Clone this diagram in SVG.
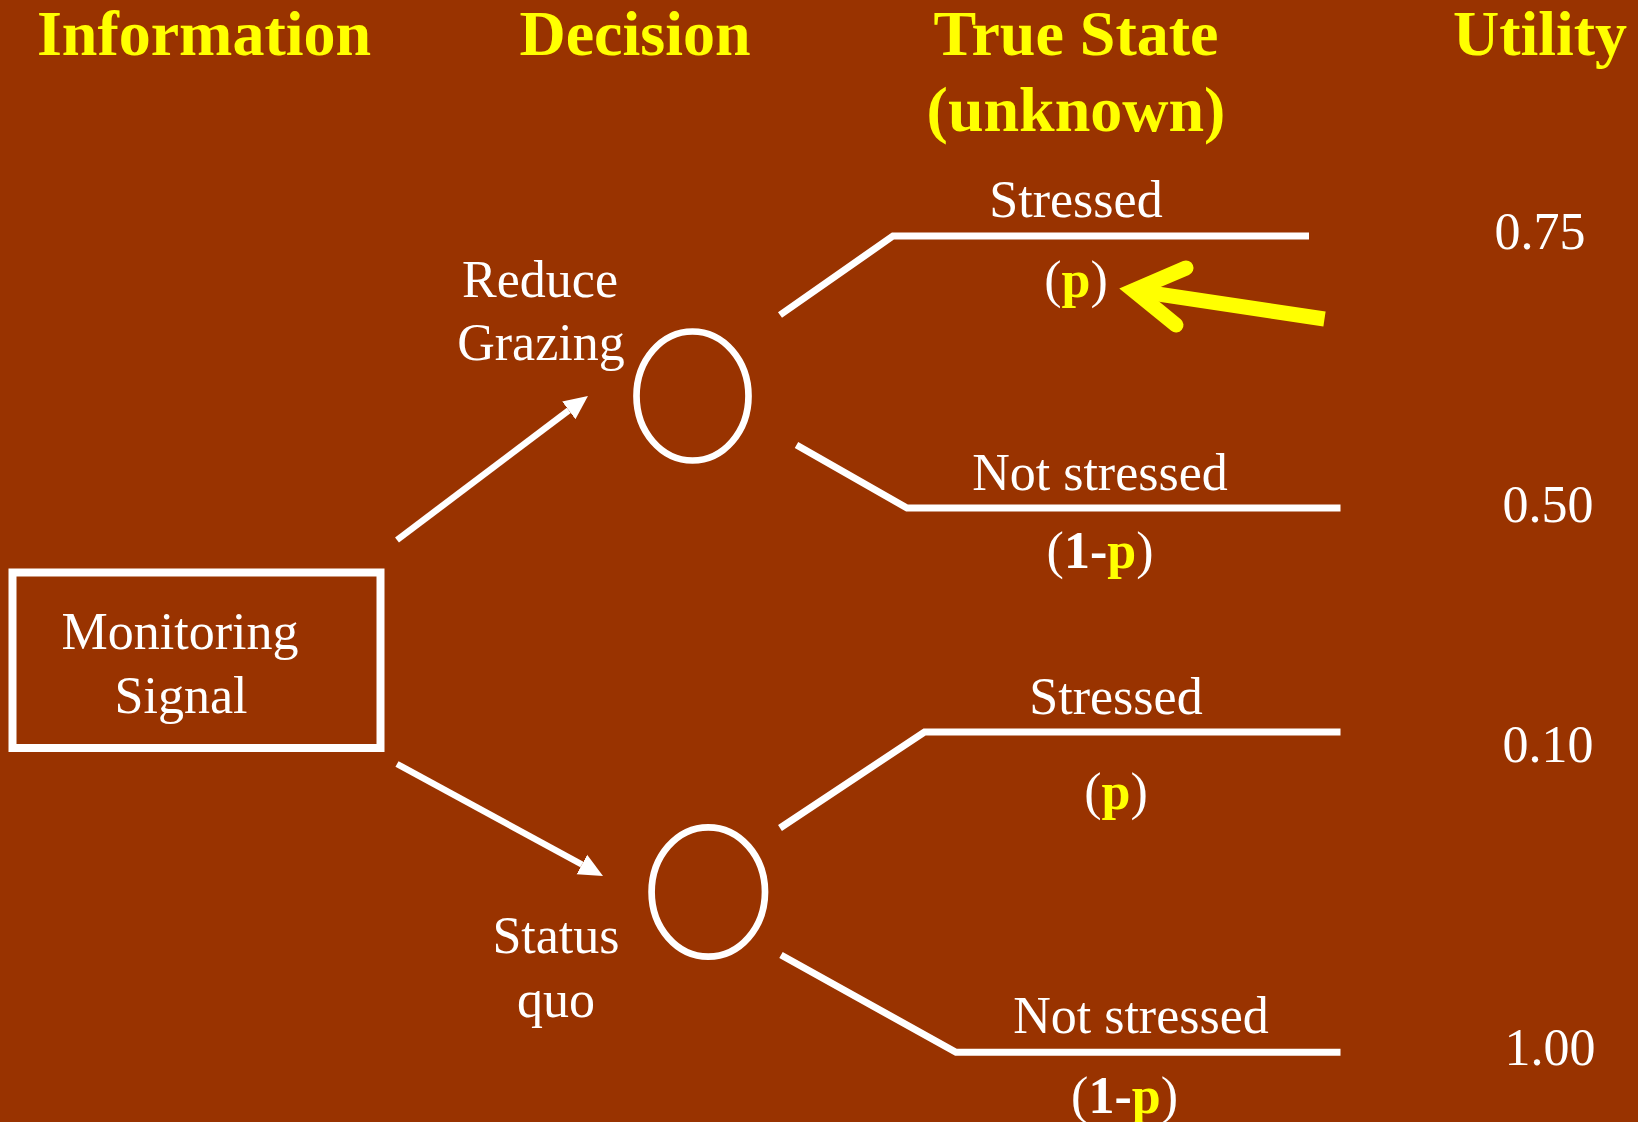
<svg xmlns="http://www.w3.org/2000/svg" width="1638" height="1122" viewBox="0 0 1638 1122">
  <defs>
    <style>
      .title { font-family: "Liberation Serif", "Times New Roman", serif; font-weight: bold; font-size: 64px; fill: #FFFF00; text-anchor: middle; }
      .lbl { font-family: "Liberation Serif", "Times New Roman", serif; font-size: 52px; fill: #FFFFFF; text-anchor: middle; }
      .b { font-weight: bold; }
      .y { fill: #FFFF00; font-weight: bold; }
      .edge { fill: none; stroke: #FFFFFF; stroke-width: 7; stroke-linejoin: miter; }
      .arrow { fill: none; stroke: #FFFFFF; stroke-width: 6.5; marker-end: url(#head); }
      .chance { fill: none; stroke: #FFFFFF; stroke-width: 6.7; }
    </style>
    <marker id="head" markerUnits="userSpaceOnUse" markerWidth="26" markerHeight="24" refX="0" refY="12" orient="auto" viewBox="0 0 26 24">
      <path d="M0,1 L24,12 L0,23 z" fill="#FFFFFF"/>
    </marker>
  </defs>

  <!-- background -->
  <rect x="0" y="0" width="1638" height="1122" fill="#993300"/>

  <!-- column headings -->
  <g id="headings">
    <text class="title" x="204" y="55">Information</text>
    <text class="title" x="635" y="55">Decision</text>
    <text class="title" x="1076" y="55">True State</text>
    <text class="title" x="1076" y="131">(unknown)</text>
    <text class="title" x="1540" y="55">Utility</text>
  </g>

  <!-- connectors -->
  <g id="connectors">
    <path class="arrow" d="M397,540 L568.8,410.4"/>
    <path class="arrow" d="M397,764 L581.9,864.5"/>
    <polyline class="edge" points="780,315 893,236 1309,236"/>
    <polyline class="edge" points="796.5,445 907,508 1340.5,508"/>
    <polyline class="edge" points="780,828 924.5,732 1340.5,732"/>
    <polyline class="edge" points="781,955 956,1052.3 1340.5,1052.3"/>
  </g>

  <!-- information node -->
  <g id="monitoring-signal">
    <rect x="12.5" y="572.5" width="368" height="175.5" fill="none" stroke="#FFFFFF" stroke-width="8"/>
    <text class="lbl" x="180" y="649">Monitoring</text>
    <text class="lbl" x="181" y="713">Signal</text>
  </g>

  <!-- decision: reduce grazing -->
  <g id="reduce-grazing">
    <text class="lbl" x="540" y="297">Reduce</text>
    <text class="lbl" x="541" y="360">Grazing</text>
    <ellipse class="chance" cx="692.5" cy="396" rx="56" ry="64.5"/>
  </g>

  <!-- decision: status quo -->
  <g id="status-quo">
    <text class="lbl" x="556" y="953">Status</text>
    <text class="lbl" x="556" y="1017">quo</text>
    <ellipse class="chance" cx="708.3" cy="892" rx="56.7" ry="64.7"/>
  </g>

  <!-- outcomes -->
  <g id="outcome-rg-stressed">
    <text class="lbl" x="1076" y="217">Stressed</text>
    <text class="lbl" x="1076" y="297">(<tspan class="y">p</tspan>)</text>
    <text class="lbl" x="1540" y="249">0.75</text>
  </g>
  <g id="outcome-rg-not-stressed">
    <text class="lbl" x="1100" y="490">Not stressed</text>
    <text class="lbl" x="1100" y="568">(<tspan class="b">1-</tspan><tspan class="y">p</tspan>)</text>
    <text class="lbl" x="1548" y="521.5">0.50</text>
  </g>
  <g id="outcome-sq-stressed">
    <text class="lbl" x="1116" y="713.5">Stressed</text>
    <text class="lbl" x="1116" y="809">(<tspan class="y">p</tspan>)</text>
    <text class="lbl" x="1548" y="761.5">0.10</text>
  </g>
  <g id="outcome-sq-not-stressed">
    <text class="lbl" x="1141" y="1032.5">Not stressed</text>
    <text class="lbl" x="1124.5" y="1112.5">(<tspan class="b">1-</tspan><tspan class="y">p</tspan>)</text>
    <text class="lbl" x="1550" y="1065">1.00</text>
  </g>

  <!-- highlight pointer at the probability p -->
  <g id="pointer">
    <path d="M1324.5,319 L1133.6,290.4" fill="none" stroke="#FFFF00" stroke-width="15" stroke-linecap="butt"/>
    <path d="M1186,268 L1133.6,290.4 L1176,325" fill="none" stroke="#FFFF00" stroke-width="15" stroke-linecap="round" stroke-linejoin="miter" stroke-miterlimit="10"/>
  </g>
</svg>
